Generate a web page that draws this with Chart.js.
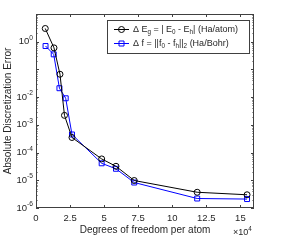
<!DOCTYPE html>
<html lang="en">
<head>
  <meta charset="UTF-8" />
  <title>Discretization error</title>
  <style>
    body {
      margin: 0;
      background: #fff;
    }
    #wrap {
      width: 281px;
      height: 241px;
    }
  </style>
</head>
<body>
  <div id="wrap"><canvas id="chart" width="281" height="241"></canvas></div>

  <script src="https://cdn.jsdelivr.net/npm/chart.js"></script>

  <script>
    // degrees of freedom per atom (x 10^4)
    const dofEnergy = [0.68, 1.32, 1.76, 2.09, 2.64, 4.82, 5.87, 7.21, 11.83, 15.49];
    const dofForce  = [0.70, 1.30, 1.72, 2.18, 2.64, 4.82, 5.87, 7.21, 11.83, 15.49];
    const energyErr = [3.0, 0.6, 0.067, 2.2e-3, 3.5e-4, 5.9e-5, 3.2e-5, 9.8e-6, 3.7e-6, 3.0e-6];
    const forceErr  = [0.7, 0.35, 0.021, 9.1e-3, 4.5e-4, 4.1e-5, 2.6e-5, 8.3e-6, 2.2e-6, 2.1e-6];

    const xTicks = [0, 2.5, 5, 7.5, 10, 12.5, 15];
    const xTickLabels = ['0', '2.5', '5', '7.5', '10', '12.5', '15'];
    const yTickExps = [0, -2, -3, -4, -5, -6];

    const FONT = "'Liberation Sans', Arial, sans-serif";
    const AXIS = '#404040';
    const TEXT = '#262626';

    // draw text runs with sub/superscripts, returns end x
    function drawRuns(ctx, runs, x, y, size) {
      ctx.textBaseline = 'middle';
      ctx.textAlign = 'left';
      for (const r of runs) {
        let s = size, dy = 0;
        if (r.sub) { s = size * 0.7; dy = size * 0.3; }
        if (r.sup) { s = size * 0.7; dy = -size * 0.4; }
        ctx.font = s + 'px ' + FONT;
        ctx.fillText(r.t, x, y + dy);
        x += ctx.measureText(r.t).width;
      }
      return x;
    }

    function runsWidth(ctx, runs, size) {
      let w = 0;
      for (const r of runs) {
        const s = (r.sub || r.sup) ? size * 0.7 : size;
        ctx.font = s + 'px ' + FONT;
        w += ctx.measureText(r.t).width;
      }
      return w;
    }

    const axesPlugin = {
      id: 'matlabAxes',
      beforeDatasetsDraw(chart) {
        const ctx = chart.ctx;
        const a = chart.chartArea;
        const xs = chart.scales.x, ys = chart.scales.y;
        ctx.save();
        ctx.strokeStyle = AXIS;
        ctx.lineWidth = 1;
        ctx.strokeRect(Math.round(a.left) + 0.5, Math.round(a.top) + 0.5,
          Math.round(a.right - a.left) - 1, Math.round(a.bottom - a.top) - 1);

        ctx.beginPath();
        for (const v of xTicks) {
          const px = Math.round(xs.getPixelForValue(v)) + 0.5;
          ctx.moveTo(px, a.bottom); ctx.lineTo(px, a.bottom - 3);
          ctx.moveTo(px, a.top); ctx.lineTo(px, a.top + 3);
        }
        for (let e = -6; e <= 1; e++) {
          for (let m = 1; m <= 9; m++) {
            const v = m * Math.pow(10, e);
            if (v > 10.0001) continue;
            const py = Math.round(ys.getPixelForValue(v)) + 0.5;
            const len = m === 1 ? 3 : 1.5;
            ctx.moveTo(a.left, py); ctx.lineTo(a.left + len, py);
            ctx.moveTo(a.right, py); ctx.lineTo(a.right - len, py);
          }
        }
        ctx.stroke();

        // tick labels
        ctx.fillStyle = TEXT;
        ctx.font = '9.5px ' + FONT;
        ctx.textAlign = 'center';
        ctx.textBaseline = 'middle';
        xTicks.forEach((v, i) => {
          ctx.fillText(xTickLabels[i], xs.getPixelForValue(v), a.bottom + 10);
        });
        for (const e of yTickExps) {
          const py = ys.getPixelForValue(Math.pow(10, e));
          const runs = [{ t: '10' }, { t: String(e).replace('-', '-'), sup: true }];
          const w = runsWidth(ctx, runs, 9.5);
          drawRuns(ctx, runs, a.left - 3 - w, py, 9.5);
        }

        // axis titles
        ctx.font = '10px ' + FONT;
        ctx.textAlign = 'center';
        ctx.textBaseline = 'middle';
        ctx.fillText('Degrees of freedom per atom', (a.left + a.right) / 2, a.bottom + 22);
        ctx.save();
        ctx.translate(8, (a.top + a.bottom) / 2);
        ctx.rotate(-Math.PI / 2);
        ctx.fillText('Absolute Discretization Error', 0, 0);
        ctx.restore();

        const mult = [{ t: '\u00d710' }, { t: '4', sup: true }];
        drawRuns(ctx, mult, a.right - 21, a.bottom + 25, 9);
        ctx.restore();
      },
      afterDraw(chart) {
        const ctx = chart.ctx;
        ctx.save();
        const bx = 107.5, by = 20.5, bw = 142, bh = 33;
        ctx.fillStyle = '#fff';
        ctx.fillRect(bx, by, bw, bh);
        ctx.strokeStyle = AXIS;
        ctx.lineWidth = 1;
        ctx.strokeRect(bx, by, bw, bh);

        const rows = [
          { color: '#000', style: 'circle', y: 29.5, runs: [
            { t: '\u0394 E' }, { t: 'g', sub: true }, { t: ' = | E' }, { t: '0', sub: true },
            { t: ' - E' }, { t: 'h', sub: true }, { t: '| (Ha/atom)' }] },
          { color: '#0000ff', style: 'rect', y: 43.5, runs: [
            { t: '\u0394 f = ||f' }, { t: '0', sub: true }, { t: ' - f' }, { t: 'h', sub: true },
            { t: '||' }, { t: '2', sub: true }, { t: ' (Ha/Bohr)' }] }
        ];
        for (const r of rows) {
          ctx.strokeStyle = r.color;
          ctx.lineWidth = 1;
          ctx.beginPath();
          ctx.moveTo(114, r.y); ctx.lineTo(129, r.y);
          ctx.stroke();
          ctx.beginPath();
          if (r.style === 'circle') ctx.arc(121.5, r.y, 3, 0, Math.PI * 2);
          else ctx.rect(119, r.y - 2.5, 5, 5);
          ctx.stroke();
          ctx.fillStyle = TEXT;
          drawRuns(ctx, r.runs, 133, r.y, 9);
        }
        ctx.restore();
      }
    };

    const ctx = document.getElementById('chart').getContext('2d');
    new Chart(ctx, {
      type: 'scatter',
      data: {
        datasets: [
          {
            label: 'energy',
            data: dofEnergy.map((x, i) => ({ x: x, y: energyErr[i] })),
            showLine: true,
            borderColor: '#000',
            borderWidth: 1,
            pointStyle: 'circle',
            pointRadius: 3,
            pointBorderWidth: 1,
            pointBorderColor: '#000',
            pointBackgroundColor: 'rgba(0,0,0,0)'
          },
          {
            label: 'force',
            data: dofForce.map((x, i) => ({ x: x, y: forceErr[i] })),
            showLine: true,
            borderColor: '#0000ff',
            borderWidth: 1,
            pointStyle: 'rect',
            pointRadius: 3.5,
            pointBorderWidth: 1,
            pointBorderColor: '#0000ff',
            pointBackgroundColor: 'rgba(0,0,0,0)'
          }
        ]
      },
      options: {
        responsive: false,
        animation: false,
        layout: { padding: { top: 14, right: 27, left: 0, bottom: 0 } },
        plugins: { legend: { display: false }, tooltip: { enabled: false } },
        scales: {
          x: {
            type: 'linear', min: 0, max: 16,
            grid: { display: false }, border: { display: false },
            ticks: { display: false },
            afterFit(s) { s.height = 33; }
          },
          y: {
            type: 'logarithmic', min: 1e-6, max: 10,
            grid: { display: false }, border: { display: false },
            ticks: { display: false },
            afterFit(s) { s.width = 36; }
          }
        }
      },
      plugins: [axesPlugin]
    });
  </script>
</body>
</html>
